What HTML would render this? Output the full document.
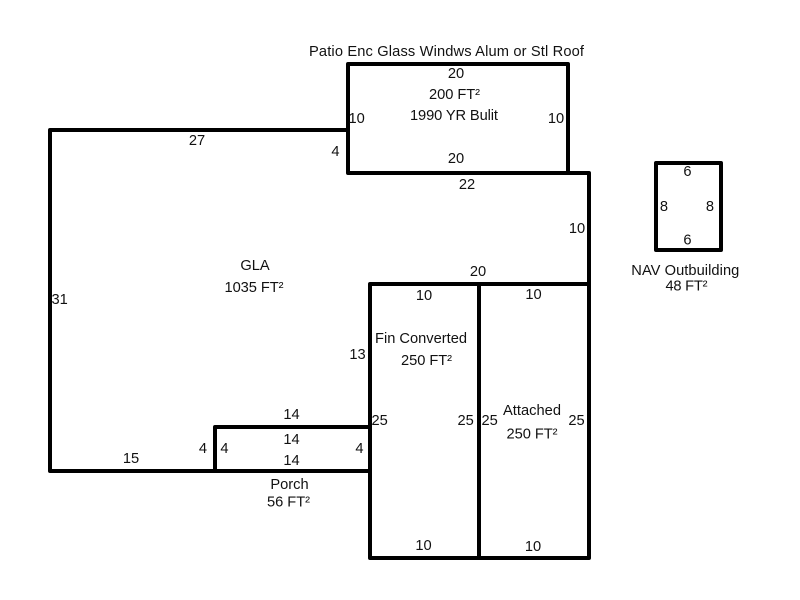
<!DOCTYPE html>
<html>
<head>
<meta charset="utf-8">
<style>
html,body{margin:0;padding:0;background:#fff;width:800px;height:600px;overflow:hidden}
svg{display:block}
text{font-family:"Liberation Sans",sans-serif;font-size:14.67px;fill:#111;text-anchor:middle}
</style>
</head>
<body>
<svg width="800" height="600" viewBox="0 0 800 600">
<g fill="none" stroke="#000" stroke-width="4" stroke-linecap="round" stroke-linejoin="round">
<rect x="348" y="64" width="220" height="109"/>
<path d="M348 130H50V471H370"/>
<path d="M568 173H589V558H370V284H589"/>
<path d="M479 284V558"/>
<path d="M215 471V427H370"/>
<rect x="656" y="163" width="65" height="87"/>
</g>
<text x="446.5" y="56" textLength="275" lengthAdjust="spacing">Patio Enc Glass Windws Alum or Stl Roof</text>
<text x="456" y="78">20</text>
<text x="454.5" y="99" textLength="51" lengthAdjust="spacing">200 FT²</text>
<text x="454" y="120" textLength="88" lengthAdjust="spacing">1990 YR Bulit</text>
<text x="356.7" y="123">10</text>
<text x="556" y="123">10</text>
<text x="456" y="163">20</text>
<text x="335.5" y="156">4</text>
<text x="197" y="145">27</text>
<text x="467" y="189">22</text>
<text x="577" y="233">10</text>
<text x="478" y="276">20</text>
<text x="255" y="270">GLA</text>
<text x="254" y="292" textLength="59" lengthAdjust="spacing">1035 FT²</text>
<text x="59.7" y="304">31</text>
<text x="424" y="300">10</text>
<text x="533.5" y="299">10</text>
<text x="421" y="343" textLength="92" lengthAdjust="spacing">Fin Converted</text>
<text x="426.5" y="365" textLength="51" lengthAdjust="spacing">250 FT²</text>
<text x="357.5" y="359">13</text>
<text x="532" y="415" textLength="58" lengthAdjust="spacing">Attached</text>
<text x="532" y="438.5" textLength="51" lengthAdjust="spacing">250 FT²</text>
<text x="379.7" y="425">25</text>
<text x="465.7" y="425">25</text>
<text x="489.7" y="425">25</text>
<text x="576.5" y="425">25</text>
<text x="291.5" y="419">14</text>
<text x="291.5" y="444">14</text>
<text x="291.5" y="465">14</text>
<text x="131" y="463">15</text>
<text x="203" y="453">4</text>
<text x="224.5" y="453">4</text>
<text x="359.5" y="453">4</text>
<text x="289.5" y="489">Porch</text>
<text x="288.5" y="506.5" textLength="43" lengthAdjust="spacing">56 FT²</text>
<text x="423.5" y="550">10</text>
<text x="533" y="551">10</text>
<text x="687.5" y="176">6</text>
<text x="664" y="211">8</text>
<text x="710" y="211">8</text>
<text x="687.5" y="244.5">6</text>
<text x="685.3" y="275" textLength="108" lengthAdjust="spacing">NAV Outbuilding</text>
<text x="686.5" y="290.5" textLength="42" lengthAdjust="spacing">48 FT²</text>
</svg>
</body>
</html>
